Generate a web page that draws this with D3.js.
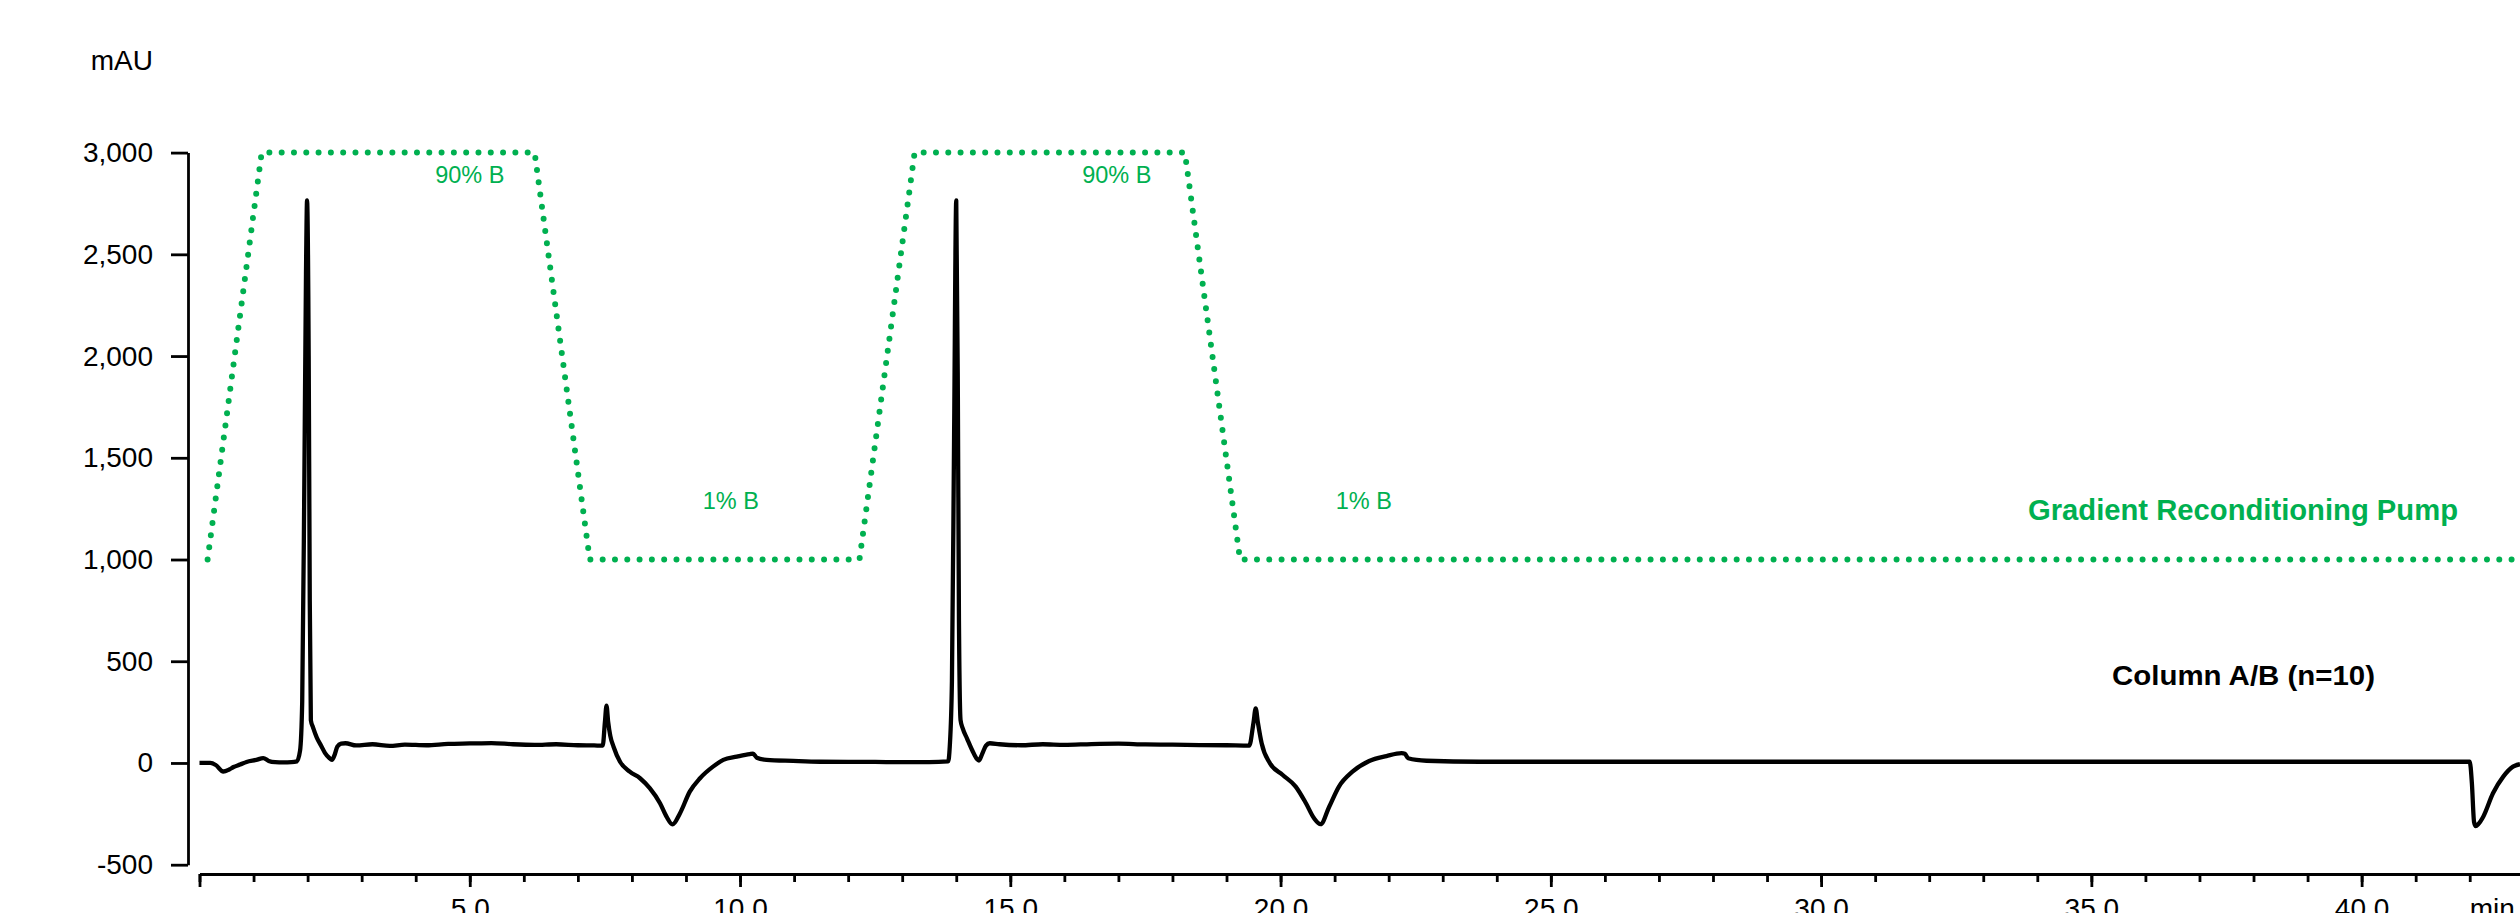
<!DOCTYPE html>
<html>
  <head>
    <script src="https://d3js.org/d3.v7.min.js"></script>
    <style>
      body {
        margin: 0;
        background: #ffffff;
        font-family: "Liberation Sans", Arial, sans-serif;
      }
    </style>
    <title>Gradient Reconditioning</title>
  </head>

  <body>
    <svg id="chart" width="2520" height="913"></svg>

    <script>
      // chromatogram, Column A/B (n=10), time in min / signal in mAU
      var traceTime = [
        0.0, 0.2, 0.3, 0.44, 0.55, 0.63, 0.75, 0.87, 1.05, 1.18, 1.28, 1.4,
        1.55, 1.7, 1.8, 1.86, 1.9, 1.94, 1.97, 1.99, 2.02, 2.04, 2.06, 2.1,
        2.17, 2.25, 2.32, 2.4, 2.45, 2.5, 2.55, 2.62, 2.7, 2.9, 3.2, 3.52, 3.8,
        4.2, 4.6, 5.0, 5.4, 5.8, 6.2, 6.6, 7.0, 7.3, 7.46, 7.5, 7.53, 7.56,
        7.6, 7.66, 7.78, 7.96, 8.15, 8.33, 8.52, 8.64, 8.75, 8.89, 9.07, 9.26,
        9.5, 9.69, 9.94, 10.18, 10.24, 10.31, 10.49, 10.98, 11.48, 12.0, 12.5,
        13.0, 13.5, 13.85, 13.88, 13.92, 13.96, 14.0, 14.03, 14.05, 14.08,
        14.12, 14.2, 14.3, 14.38, 14.42, 14.48, 14.55, 14.62, 14.8, 15.2, 15.6,
        16.0, 16.5, 17.0, 17.5, 18.0, 18.5, 19.0, 19.42, 19.5, 19.54, 19.58,
        19.65, 19.8, 20.04, 20.28, 20.47, 20.62, 20.74, 20.9, 21.08, 21.33,
        21.64, 21.96, 22.24, 22.3, 22.36, 22.7, 23.69, 30.0, 35.0, 42.0, 42.04,
        42.08, 42.11, 42.16, 42.25, 42.43, 42.62, 42.8, 42.93,
      ];
      var traceSignal = [
        0, 0, -10, -42, -32, -20, -8, 5, 15, 24, 10, 4, 3, 4, 8, 60, 300, 1400,
        2400, 2765, 2000, 800, 210, 175, 125, 85, 50, 25, 15, 40, 80, 95, 97,
        86, 92, 84, 90, 87, 94, 96, 98, 92, 89, 92, 87, 86, 85, 200, 282, 203,
        133, 80, 6, -43, -75, -124, -198, -264, -302, -247, -141, -75, -18, 15,
        31, 44, 46, 26, 15, 10, 6, 5, 5, 4, 4, 8, 80, 400, 1600, 2765, 1800,
        700, 210, 170, 120, 60, 20, 12, 45, 85, 97, 92, 87, 92, 89, 93, 95, 91,
        90, 88, 87, 85, 200, 268, 200, 97, 0, -59, -116, -198, -272, -301, -215,
        -116, -43, 10, 34, 48, 45, 23, 11, 6, 6, 6, 6, -100, -290, -310, -300,
        -264, -149, -67, -18, -6,
      ];

      // gradient pump program, drawn on the mAU scale
      var gradTime = [0.15, 1.15, 6.2, 7.22, 12.21, 13.23, 18.23, 19.25, 42.93];
      var gradValue = [1000, 3000, 3000, 1000, 1000, 3000, 3000, 1000, 1000];

      var gradLabels = ["90% B", "1% B", "90% B", "1% B"];
      var gradLabelTime = [5.0, 9.83, 16.97, 21.54];
      var gradLabelValue = [2850, 1250, 2850, 1250];

      var yTicks = [-500, 0, 500, 1000, 1500, 2000, 2500, 3000];
      var yTickLabels = ["-500", "0", "500", "1,000", "1,500", "2,000", "2,500", "3,000"];
      var xMajorTicks = [0, 5, 10, 15, 20, 25, 30, 35, 40];
      var xTickLabels = ["", "5.0", "10.0", "15.0", "20.0", "25.0", "30.0", "35.0", "40.0"];

      var green = "#00b050";
      var font = '"Liberation Sans", Arial, sans-serif';
      var narrow = '"Liberation Sans Narrow", "Arial Narrow", "Liberation Sans", Arial, sans-serif';

      var canvas = d3.select("#chart");

      var xScale = d3.scaleLinear().domain([0, 42.93]).range([199.5, 2520]);
      var yScale = d3.scaleLinear().domain([-500, 3000]).range([864.7, 152.6]);

      // y axis
      var yAxis = d3
        .axisLeft(yScale)
        .tickValues(yTicks)
        .tickSize(17)
        .tickSizeOuter(0)
        .tickPadding(18)
        .tickFormat(function (d, i) {
          return yTickLabels[i];
        });

      var yG = canvas
        .append("g")
        .attr("transform", "translate(188,0)")
        .call(yAxis);
      yG.selectAll("text")
        .style("font-family", font)
        .style("font-size", "28px")
        .style("fill", "#000");

      // x axis, minor ticks every minute then major ticks with labels
      var xMinor = d3
        .axisBottom(xScale)
        .tickValues(d3.range(0, 43, 1))
        .tickSize(8)
        .tickSizeOuter(0)
        .tickFormat("");

      var xMajor = d3
        .axisBottom(xScale)
        .tickValues(xMajorTicks)
        .tickSize(13)
        .tickSizeOuter(0)
        .tickPadding(11)
        .tickFormat(function (d, i) {
          return xTickLabels[i];
        });

      var xG1 = canvas.append("g").attr("transform", "translate(0,874)").call(xMinor);
      var xG2 = canvas.append("g").attr("transform", "translate(0,874)").call(xMajor);
      xG2.select(".domain").remove();
      canvas
        .selectAll("g")
        .selectAll("line,path")
        .style("stroke", "#000")
        .style("stroke-width", "2.8px");
      xG2.selectAll("text")
        .style("font-family", font)
        .style("font-size", "28px")
        .style("fill", "#000");

      canvas
        .append("text")
        .attr("x", xScale(42))
        .attr("y", 874 + 24)
        .attr("dy", "0.71em")
        .style("font-family", font)
        .style("font-size", "28px")
        .text("min");

      canvas
        .append("text")
        .attr("x", 153)
        .attr("y", 70)
        .attr("text-anchor", "end")
        .style("font-family", font)
        .style("font-size", "28px")
        .text("mAU");

      // gradient (dotted green)
      var gradData = gradTime.map(function (t, i) {
        return [t, gradValue[i]];
      });
      var gradLine = d3
        .line()
        .x(function (d) { return xScale(d[0]); })
        .y(function (d) { return yScale(d[1]); });

      canvas
        .append("path")
        .datum(gradData)
        .attr("d", gradLine)
        .style("fill", "none")
        .style("stroke", green)
        .style("stroke-width", "6px")
        .style("stroke-linecap", "round")
        .style("stroke-linejoin", "round")
        .style("stroke-dasharray", "0,12.3");

      canvas
        .selectAll(".grad-label")
        .data(gradLabels)
        .enter()
        .append("text")
        .attr("class", "grad-label")
        .attr("x", function (d, i) { return xScale(gradLabelTime[i]); })
        .attr("y", function (d, i) { return yScale(gradLabelValue[i]); })
        .attr("text-anchor", "middle")
        .style("font-family", font)
        .style("font-size", "23.5px")
        .style("fill", green)
        .text(function (d) { return d; });

      // chromatogram trace
      var traceData = traceTime.map(function (t, i) {
        return [t, traceSignal[i]];
      });
      var traceLine = d3
        .line()
        .curve(d3.curveMonotoneX)
        .x(function (d) { return xScale(d[0]); })
        .y(function (d) { return yScale(d[1]); });

      canvas
        .append("path")
        .datum(traceData)
        .attr("d", traceLine)
        .style("fill", "none")
        .style("stroke", "#000")
        .style("stroke-width", "4.3px")
        .style("stroke-linejoin", "round");

      // series names
      canvas
        .append("text")
        .attr("x", 2028)
        .attr("y", 520)
        .attr("textLength", 430)
        .attr("lengthAdjust", "spacingAndGlyphs")
        .style("font-family", narrow)
        .style("font-weight", "bold")
        .style("font-size", "29px")
        .style("fill", green)
        .text("Gradient Reconditioning Pump");

      canvas
        .append("text")
        .attr("x", 2112)
        .attr("y", 685)
        .attr("textLength", 263)
        .attr("lengthAdjust", "spacingAndGlyphs")
        .style("font-family", narrow)
        .style("font-weight", "bold")
        .style("font-size", "28px")
        .style("fill", "#000")
        .text("Column A/B (n=10)");
    </script>
  </body>
</html>
